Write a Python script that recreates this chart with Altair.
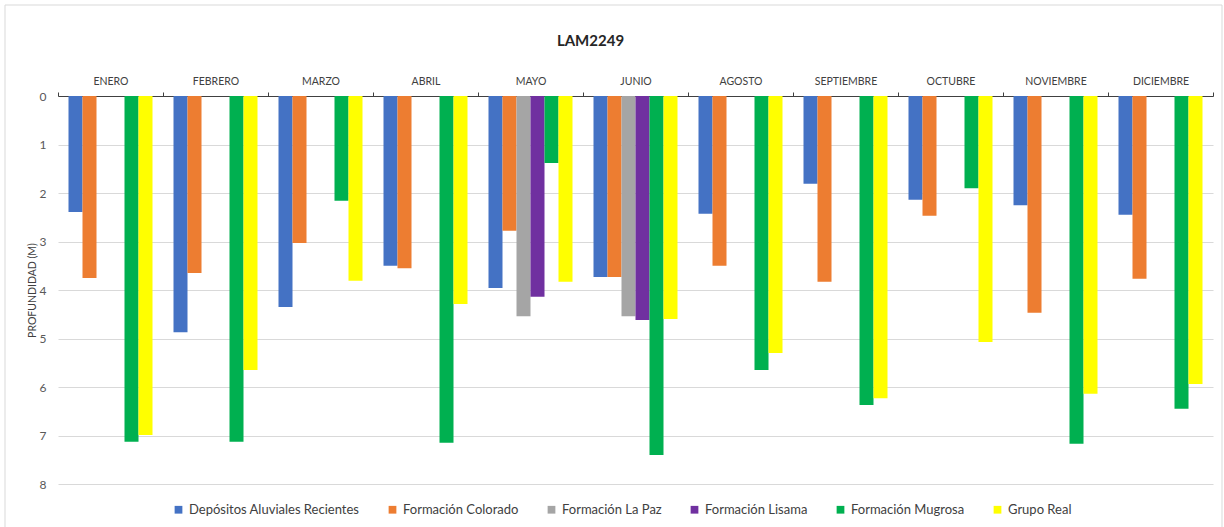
import altair as alt
import pandas as pd

# Months sampled (no July campaign) and the geological units measured
months = ["ENERO", "FEBRERO", "MARZO", "ABRIL", "MAYO", "JUNIO", "AGOSTO",
          "SEPTIEMBRE", "OCTUBRE", "NOVIEMBRE", "DICIEMBRE"]
units = ["Depósitos Aluviales Recientes", "Formación Colorado", "Formación La Paz",
         "Formación Lisama", "Formación Mugrosa", "Grupo Real"]
unit_colors = ["#4472C4", "#ED7D31", "#A5A5A5", "#7030A0", "#00B050", "#FFFF00"]

# Depth (m) per unit and month; None = no measurement
depositos_aluviales = [2.39, 4.87, 4.35, 3.50, 3.96, 3.73, 2.43, 1.81, 2.14, 2.25, 2.45]
formacion_colorado = [3.75, 3.65, 3.03, 3.55, 2.78, 3.73, 3.50, 3.83, 2.47, 4.47, 3.77]
formacion_la_paz = [None, None, None, None, 4.54, 4.54, None, None, None, None, None]
formacion_lisama = [None, None, None, None, 4.14, 4.62, None, None, None, None, None]
formacion_mugrosa = [7.13, 7.13, 2.16, 7.15, 1.38, 7.40, 5.65, 6.37, 1.90, 7.17, 6.45]
grupo_real = [6.99, 5.65, 3.81, 4.29, 3.83, 4.60, 5.30, 6.23, 5.07, 6.14, 5.94]

series_values = [depositos_aluviales, formacion_colorado, formacion_la_paz,
                 formacion_lisama, formacion_mugrosa, grupo_real]

rows = []
for unit, values in zip(units, series_values):
    for month, v in zip(months, values):
        if v is not None:
            rows.append({"mes": month, "unidad": unit, "profundidad": v})
df = pd.DataFrame(rows)

W, H = 1155, 388
FONT = "Lato"
TEXT = "#595959"

bars = alt.Chart(df).mark_bar().encode(
    x=alt.X(
        "mes:N",
        sort=months,
        scale=alt.Scale(domain=months, paddingInner=0, paddingOuter=0),
        axis=alt.Axis(
            orient="top", title=None, tickBand="extent",
            tickSize=4, tickColor="#404040", domainColor="#404040",
            labelFont=FONT, labelFontSize=10.5, labelColor="#404040",
            labelPadding=6, labelAngle=0,
        ),
    ),
    xOffset=alt.XOffset(
        "unidad:N", sort=units,
        scale=alt.Scale(domain=units, paddingInner=0, paddingOuter=0.75),
    ),
    y=alt.Y(
        "profundidad:Q",
        scale=alt.Scale(domain=[0, 8], reverse=True, nice=False),
        axis=alt.Axis(
            values=list(range(0, 9)), domain=False, ticks=False,
            gridColor="#D9D9D9", gridWidth=1,
            labelFont=FONT, labelFontSize=12, labelColor=TEXT, labelPadding=12,
            title="PROFUNDIDAD (M)", titleFont=FONT, titleFontSize=10.5,
            titleFontWeight="normal", titleColor="#404040",
            titleX=-26, titleY=H / 2, titleAngle=270,
            titleAlign="center", titleBaseline="middle",
        ),
    ),
    color=alt.Color(
        "unidad:N",
        scale=alt.Scale(domain=units, range=unit_colors),
        legend=alt.Legend(
            title=None, orient="none", direction="horizontal", columns=6,
            legendX=114, legendY=407, labelLimit=0,
            symbolType="square", symbolSize=60, symbolStrokeWidth=0,
            labelFont=FONT, labelFontSize=13, labelColor="#404040",
            columnPadding=26, labelOffset=4,
        ),
    ),
)

# Light frame around the whole chart area
frame = alt.Chart(pd.DataFrame({"k": [0]})).mark_rect(
    filled=False, stroke="#D9D9D9", strokeWidth=1
).encode(
    x=alt.value(-53), x2=alt.value(W + 9),
    y=alt.value(-91), y2=alt.value(H + 60),
)

chart = alt.layer(frame, bars).properties(
    width=W,
    height=H,
    title=alt.TitleParams(
        "LAM2249", font=FONT, fontSize=15, fontWeight="bold", color="#262626",
        anchor="middle", dx=-45, dy=48, offset=4,
    ),
    autosize=alt.AutoSizeParams(type="none"),
    padding={"left": 58, "top": 96, "right": 11, "bottom": 43},
    background="white",
).configure_view(stroke=None)

chart.save("out.html", embed_options={"renderer": "svg", "actions": False})
